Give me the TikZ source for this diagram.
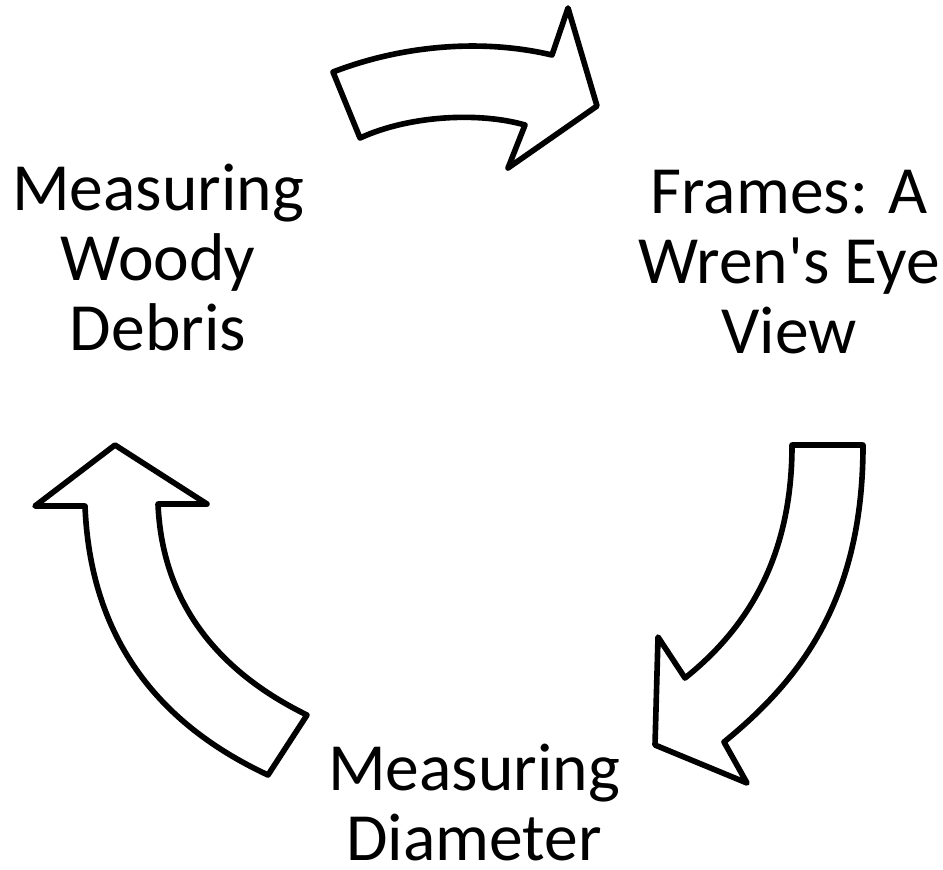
\documentclass[tikz,border=0pt]{standalone}
\usepackage{fontspec}
\setmainfont{Carlito}
\usepackage{tikz}

\begin{document}
\begin{tikzpicture}[x=0.01cm, y=-0.01cm,
  blockarrow/.style={draw=black, line width=1.6pt, line join=round, fill=white},
  steptext/.style={align=center, anchor=base, inner sep=0pt,
    font=\fontsize{19.2}{19.9}\selectfont}]

\useasboundingbox (0,0) rectangle (943,869);

% textos
\node[steptext] (debris) at (158,350) {Measuring\\Woody\\Debris};
\node[steptext] (frames) at (789,353) {Frames: A\\Wren\textquotesingle s Eye\\View};
\node[steptext] (diameter) at (474,860) {Measuring\\Diameter};

% seta de cima
\draw[blockarrow] (333,72) .. controls (400,46) and (480,38) .. (552,55)
  -- (568,8) -- (597,106) -- (508,168) -- (525,125)
  .. controls (480,112) and (410,115) .. (360,138) -- cycle;

% seta da direita
\draw[blockarrow] (792,445) -- (863,445)
  .. controls (863,600) and (800,680) .. (724,742)
  -- (747,783) -- (655,745) -- (658,637) -- (685,678)
  .. controls (745,630) and (792,560) .. (792,445) -- cycle;

% seta da esquerda
\draw[blockarrow] (115,445) -- (207,504) -- (158,504)
  .. controls (162,600) and (215,670) .. (307,715)
  -- (268,775) .. controls (150,720) and (90,630) .. (85,506)
  -- (35,506) -- cycle;

\end{tikzpicture}
\end{document}
